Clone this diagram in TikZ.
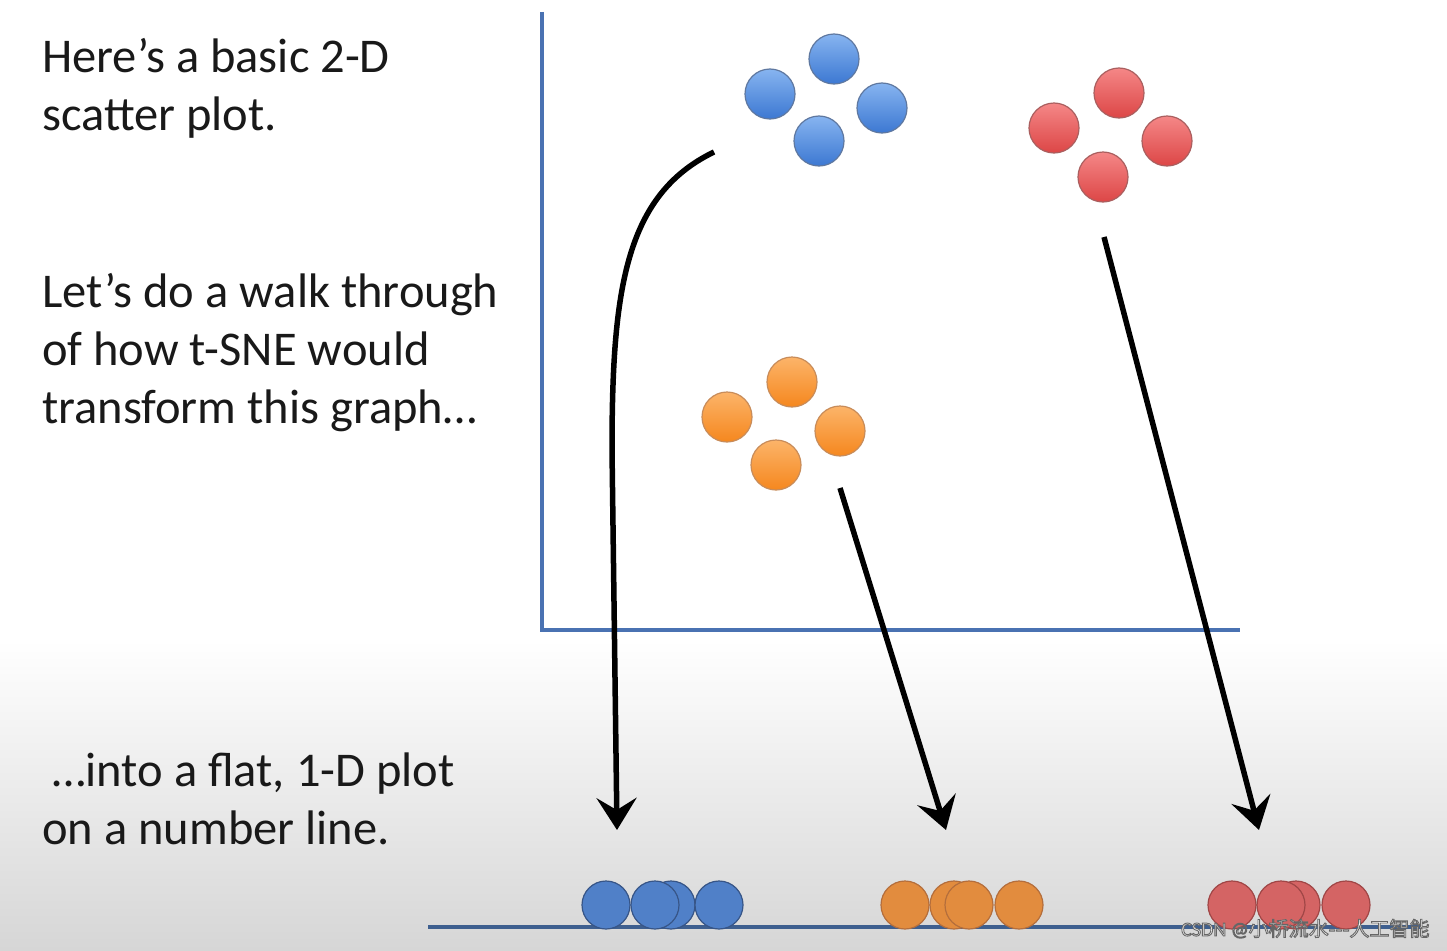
\documentclass[tikz,border=0pt]{standalone}
\usepackage{fontspec}
\setmainfont{Carlito}
\newfontfamily\cjkfont{Noto Sans CJK SC}
\usetikzlibrary{arrows.meta}
\definecolor{axisblue}{HTML}{4A72B2}
\definecolor{lineblue}{HTML}{3E5F8F}
\tikzset{
  dot/.style={circle, minimum size=50pt, inner sep=0pt, line width=1.2pt},
  bluedot/.style={dot, top color={rgb,255:red,135;green,180;blue,240}, bottom color={rgb,255:red,60;green,120;blue,210}, draw={rgb,255:red,95;green,120;blue,160}},
  reddot/.style={dot, top color={rgb,255:red,245;green,135;blue,135}, bottom color={rgb,255:red,220;green,70;blue,70}, draw={rgb,255:red,170;green,95;blue,95}},
  orangedot/.style={dot, top color={rgb,255:red,252;green,180;blue,105}, bottom color={rgb,255:red,245;green,135;blue,30}, draw={rgb,255:red,200;green,140;blue,90}},
  fbluedot/.style={dot, minimum size=48pt, fill={rgb,255:red,80;green,128;blue,200}, draw={rgb,255:red,55;green,85;blue,135}},
  forangedot/.style={dot, minimum size=48pt, fill={rgb,255:red,226;green,140;blue,62}, draw={rgb,255:red,180;green,110;blue,60}},
  freddot/.style={dot, minimum size=48pt, fill={rgb,255:red,212;green,100;blue,100}, draw={rgb,255:red,160;green,70;blue,70}},
  txt/.style={anchor=base west, inner sep=0pt, font=\fontsize{48.5}{58}\selectfont, text=black!90},
  axis/.style={draw=axisblue, line width=4pt},
  arr/.style={draw=black, line width=5.5pt, -{Stealth[length=32pt,width=40pt,inset=12pt]}},
}
\begin{document}
\begin{tikzpicture}[x=1pt,y=-1pt]
\useasboundingbox (0,0) rectangle (1447,950);
\fill[white] (0,0) rectangle (1447,640);
\shade[top color=white, bottom color={rgb,255:red,214;green,214;blue,214}] (0,640) rectangle (1447,950);

% axes
\coordinate (ytop) at (542,12);
\coordinate (origin) at (542,630);
\coordinate (xend) at (1240,630);
\draw[axis] (ytop) -- (origin) -- (xend);

% text
\node[txt] (t1) at (42,72) {Here’s a basic 2-D};
\node[txt] (t2) at (42,130) {scatter plot.};
\node[txt] (t3) at (42,307) {Let’s do a walk through};
\node[txt] (t4) at (42,365) {of how t-SNE would};
\node[txt] (t5) at (42,423) {transform this graph…};
\node[txt] (t6) at (52,786) {…into a flat, 1-D plot};
\node[txt] (t7) at (42,844) {on a number line.};

% clusters
\node[bluedot] (b1) at (834,59) {};
\node[bluedot] (b2) at (770,94) {};
\node[bluedot] (b3) at (882,108) {};
\node[bluedot] (b4) at (819,141) {};
\node[reddot] (r1) at (1119,93) {};
\node[reddot] (r2) at (1054,128) {};
\node[reddot] (r3) at (1167,141) {};
\node[reddot] (r4) at (1103,177) {};
\node[orangedot] (o1) at (792,382) {};
\node[orangedot] (o2) at (727,417) {};
\node[orangedot] (o3) at (840,431) {};
\node[orangedot] (o4) at (776,465) {};

% number line
\coordinate (nl1) at (428,927);
\coordinate (nl2) at (1420,927);
\draw[draw=lineblue, line width=4pt] (nl1) -- (nl2);

% flattened dots
\node[fbluedot] (fb3) at (671,905) {};
\node[fbluedot] (fb1) at (606,905) {};
\node[fbluedot] (fb2) at (655,905) {};
\node[fbluedot] (fb4) at (719,905) {};
\node[forangedot] (fo1) at (905,905) {};
\node[forangedot] (fo2) at (954,905) {};
\node[forangedot] (fo3) at (969,905) {};
\node[forangedot] (fo4) at (1019,905) {};
\node[freddot] (fr3) at (1296,905) {};
\node[freddot] (fr1) at (1232,905) {};
\node[freddot] (fr2) at (1281,905) {};
\node[freddot] (fr4) at (1346,905) {};

% arrows
\coordinate (bs) at (714,152);
\coordinate (be) at (617,830);
\coordinate (os) at (840,488);
\coordinate (oe) at (946,830);
\coordinate (rs) at (1104,237);
\coordinate (re) at (1259,830);
\draw[arr] (bs) .. controls (625,195) and (612,290) .. (612,450) -- (be);
\draw[arr] (os) -- (oe);
\draw[arr] (rs) -- (re);

% watermark
\node[anchor=base west, inner sep=0pt, font=\fontsize{20}{20}\selectfont, text=white] (wm) at (1181,936) {\special{pdf:literal direct 2 Tr 0.9 w 0.4 G}CSDN @\cjkfont 小桥流水---人工智能\special{pdf:literal direct 0 Tr}};
\end{tikzpicture}
\end{document}
